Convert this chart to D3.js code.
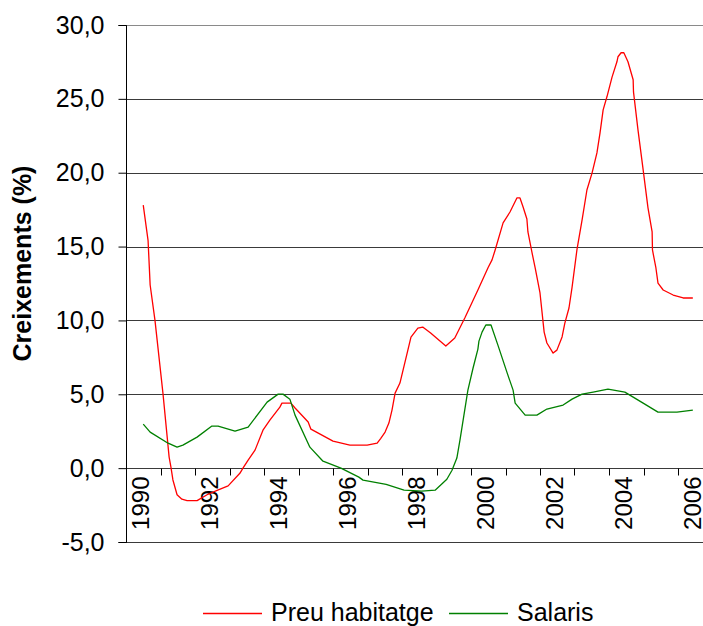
<!DOCTYPE html>
<html>
<head>
<meta charset="utf-8">
<script src="https://cdn.jsdelivr.net/npm/d3@7"></script>
<style>
  html, body { margin: 0; padding: 0; background: #fff; }
  svg { display: block; font-family: "Liberation Sans", Arial, sans-serif; }
</style>
</head>
<body>
<svg id="chart" width="703" height="626"></svg>
<script>
// Annual growth rates (%), sampled along decimal years
const preuYears = [1990.0, 1990.14, 1990.2, 1990.34, 1990.57, 1990.75, 1990.8, 1990.86, 1990.98, 1991.12,
  1991.27, 1991.56, 1991.85, 1992.14, 1992.46, 1992.8, 1992.89, 1993.04, 1993.24, 1993.47,
  1993.67, 1993.96, 1994.02, 1994.28, 1994.4, 1994.78, 1994.86, 1995.5, 1995.99, 1996.49,
  1996.78, 1996.88, 1997.01, 1997.12, 1997.21, 1997.3, 1997.44, 1997.67, 1997.76, 1997.96,
  1998.1, 1998.33, 1998.77, 1999.03, 1999.32, 1999.7, 2000.0, 2000.11, 2000.2, 2000.43,
  2000.63, 2000.83, 2000.92, 2001.01, 2001.12, 2001.15, 2001.27, 2001.36, 2001.5, 2001.62,
  2001.7, 2001.88, 2001.99, 2002.14, 2002.22, 2002.34, 2002.43, 2002.57, 2002.72, 2002.86,
  2003.01, 2003.15, 2003.24, 2003.33, 2003.44, 2003.59, 2003.73, 2003.76, 2003.85, 2003.93,
  2004.05, 2004.2, 2004.21, 2004.34, 2004.49, 2004.63, 2004.75, 2004.76, 2004.86, 2004.92,
  2005.07, 2005.36, 2005.65, 2005.93];
const preuValues = [17.8, 15.4, 12.4, 10.0, 5.1, 0.75, 0.1, -0.8, -1.8, -2.1,
  -2.2, -2.2, -1.8, -1.5, -1.2, -0.35, 0.0, 0.54, 1.22, 2.57,
  3.25, 4.13, 4.4, 4.4, 4.07, 3.12, 2.64, 1.83, 1.56, 1.56,
  1.7, 2.0, 2.44, 3.05, 3.93, 5.08, 5.76, 7.99, 8.87, 9.48,
  9.55, 9.15, 8.27, 8.81, 10.16, 12.06, 13.6, 14.1, 14.77, 16.6,
  17.34, 18.29, 18.29, 17.68, 16.87, 15.99, 14.57, 13.55, 11.86, 9.21,
  8.47, 7.79, 7.99, 8.88, 9.82, 10.84, 12.26, 14.77, 16.8, 18.83,
  19.99, 21.34, 22.7, 24.25, 25.14, 26.49, 27.51, 27.85, 28.12, 28.12,
  27.51, 26.29, 25.47, 22.9, 20.19, 17.62, 15.99, 14.77, 13.55, 12.53,
  12.06, 11.72, 11.52, 11.52];

const salarisYears = [1990.0, 1990.2, 1990.72, 1990.98, 1991.15, 1991.56, 1991.99, 1992.17, 1992.66, 1993.04,
  1993.59, 1993.91, 1994.05, 1994.25, 1994.4, 1994.83, 1995.21, 1995.73, 1996.25, 1996.37,
  1997.04, 1997.56, 1998.07, 1998.46, 1998.8, 1998.95, 1999.09, 1999.18, 1999.41, 1999.56,
  1999.7, 1999.73, 1999.82, 1999.93, 2000.08, 2000.28, 2000.54, 2000.72, 2000.78, 2001.07,
  2001.41, 2001.7, 2002.17, 2002.43, 2002.72, 2003.04, 2003.47, 2003.96, 2004.49, 2004.92,
  2005.47, 2005.93];
const salarisValues = [2.98, 2.44, 1.69, 1.42, 1.56, 2.1, 2.85, 2.85, 2.5, 2.78,
  4.47, 5.01, 5.01, 4.67, 3.59, 1.42, 0.47, 0.0, -0.61, -0.81,
  -1.1, -1.49, -1.56, -1.49, -0.75, -0.14, 0.68, 1.9, 5.28, 6.78,
  8.06, 8.6, 9.21, 9.69, 9.69, 8.33, 6.5, 5.28, 4.4, 3.59,
  3.59, 4.0, 4.27, 4.67, 5.01, 5.15, 5.35, 5.15, 4.4, 3.79,
  3.79, 3.93];

const yTicks = [-5, 0, 5, 10, 15, 20, 25, 30];
const yearLabels = [1990, 1992, 1994, 1996, 1998, 2000, 2002, 2004, 2006];
const yearTicks = d3.range(1990.5, 2006, 1);
const seriesNames = ["Preu habitatge", "Salaris"];
const seriesColors = ["#ff0000", "#008000"];

(function draw() {
  const svg = d3.select("#chart");
  const plotLeft = 126, plotTop = 25, plotBottom = 542, plotRight = 712.5;

  const x = d3.scaleLinear().domain([1989.5, 2006.5]).range([plotLeft, plotRight]);
  const y = d3.scaleLinear().domain([-5, 30]).range([plotBottom, plotTop]);

  const fmt = v => d3.format(".1f")(v).replace(".", ",").replace("\u2212", "-");

  // horizontal gridlines
  svg.append("g")
    .selectAll("line")
    .data(yTicks)
    .join("line")
    .attr("x1", plotLeft).attr("x2", plotRight)
    .attr("y1", d => Math.round(y(d)) + 0.5)
    .attr("y2", d => Math.round(y(d)) + 0.5)
    .attr("stroke", d => d === 30 ? "#8a8a8a" : "#3a3a3a")
    .attr("stroke-width", 1.2);

  // value axis
  const yAxis = svg.append("g")
    .attr("transform", `translate(${plotLeft + 0.5},0)`)
    .call(d3.axisLeft(y).tickValues(yTicks).tickSize(8).tickPadding(14).tickFormat(fmt));
  yAxis.select(".domain").attr("stroke", "#000");
  yAxis.selectAll(".tick line").attr("stroke", "#000");
  yAxis.selectAll(".tick text")
    .attr("font-size", 25)
    .attr("font-family", "Liberation Sans, Arial, sans-serif")
    .attr("fill", "#000");
  yAxis.select(".domain").attr("d", `M-8,${y(30) + 0.5}H0V${y(-5) + 0.5}H-8`);

  // category axis along zero
  const zeroY = Math.round(y(0)) + 0.5;
  const xAxis = svg.append("g").attr("transform", `translate(0,${zeroY})`);
  xAxis.selectAll("line.tk")
    .data(yearTicks)
    .join("line")
    .attr("class", "tk")
    .attr("x1", d => Math.round(x(d)) + 0.5)
    .attr("x2", d => Math.round(x(d)) + 0.5)
    .attr("y1", 0).attr("y2", 7)
    .attr("stroke", "#000");
  xAxis.selectAll("text")
    .data(yearLabels)
    .join("text")
    .attr("transform", d => `translate(${x(d) - 2.5},8) rotate(-90)`)
    .attr("text-anchor", "end")
    .attr("dy", "0.35em")
    .attr("font-size", 24)
    .attr("fill", "#000")
    .text(d => d);

  // series lines
  const line = d3.line().x(d => x(d[0])).y(d => y(d[1]));
  const series = [
    d3.zip(preuYears, preuValues),
    d3.zip(salarisYears, salarisValues)
  ];
  svg.append("g")
    .selectAll("path")
    .data(series)
    .join("path")
    .attr("d", line)
    .attr("fill", "none")
    .attr("stroke", (d, i) => seriesColors[i])
    .attr("stroke-width", 1.3)
    .attr("stroke-linejoin", "round");

  // value axis title
  svg.append("text")
    .attr("transform", `translate(31,${(plotTop + plotBottom) / 2 - 20}) rotate(-90)`)
    .attr("text-anchor", "middle")
    .attr("font-size", 25)
    .attr("font-weight", "bold")
    .attr("fill", "#000")
    .text("Creixements (%)");

  // legend
  const legendX = [203, 449];
  const legend = svg.append("g")
    .selectAll("g")
    .data(seriesNames)
    .join("g")
    .attr("transform", (d, i) => `translate(${legendX[i]},613)`);
  legend.append("line")
    .attr("x1", 0).attr("x2", 59)
    .attr("y1", 0.5).attr("y2", 0.5)
    .attr("stroke", (d, i) => seriesColors[i])
    .attr("stroke-width", 1.3);
  legend.append("text")
    .attr("x", 68).attr("y", 8)
    .attr("font-size", 25)
    .attr("fill", "#000")
    .text(d => d);
})();
</script>
</body>
</html>
